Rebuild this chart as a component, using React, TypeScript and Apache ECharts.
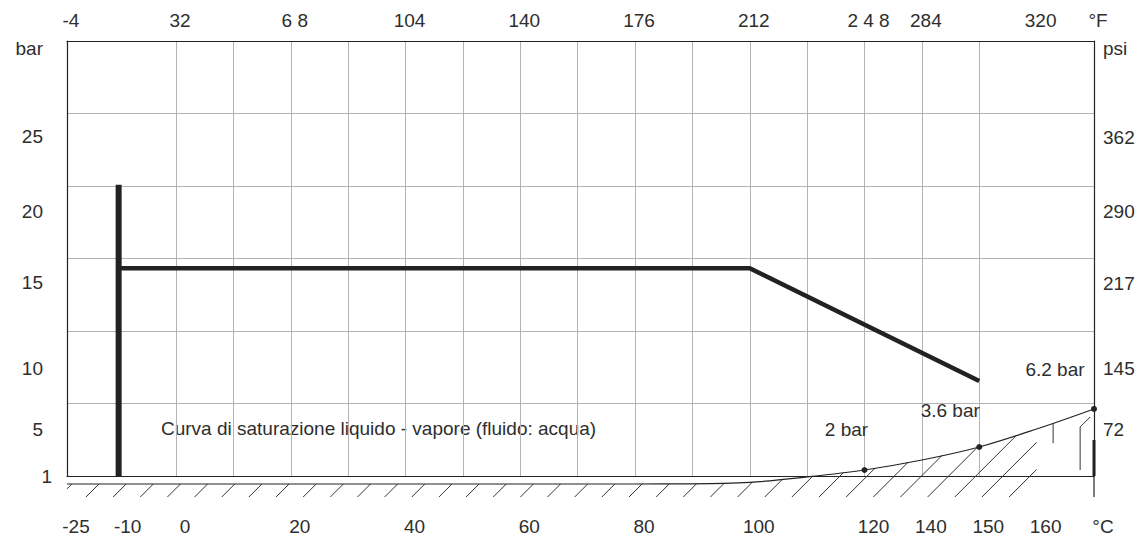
import React, { useEffect, useRef } from 'react';
import * as echarts from 'echarts';

// ---- scale stops (schematic, non-linear axes of the drawing) ----
const tempStops = [-25, -10, 120, 140, 150, 160, 170];
const colStops = [-0.9, 0, 13, 14, 15, 16, 17];
const barStops = [1, 5, 10, 15, 20, 25];
const rowStops = [0, 0.648, 1.476, 2.669, 3.648, 4.676];

// ---- tick labels ----
const celsiusTicks = [-25, -10, 0, 20, 40, 60, 80, 100, 120, 140, 150, 160, 170];
const celsiusLabels = ['-25', '-10', '0', '20', '40', '60', '80', '100', '120', '140', '150', '160', '°C'];
const fahrenheitTicks = [-25, 0, 20, 40, 60, 80, 100, 120, 140, 160, 170];
const fahrenheitLabels = ['-4', '32', '6 8', '104', '140', '176', '212', '2 4 8', '284', '320', '°F'];
const barTicks = [5, 10, 15, 20, 25];
const barBottomTick = 1;
const psiTicks = [72, 145, 217, 290, 362];
const unitRow = 5.9;

// ---- series data (°C, bar) ----
const limitTemp = [-10, -10];
const limitBar = [1, 21.8];
const ptTemp = [-10, 100, 150];
const ptBar = [16, 16, 9];
const satTemp = [-25, 70, 80, 90, 100, 110, 120, 140, 150, 160, 170];
const satBar = [0.32, 0.32, 0.32, 0.33, 0.46, 0.92, 1.51, 2.36, 3.47, 5.0, 6.67];
const markTemp = [120, 150, 170];
const markBar = [1.51, 3.47, 6.67];
const markLabels = ['2 bar', '3.6 bar', '6.2 bar'];
const markLabelOffsets = [[-18, -41], [-29, -36], [-39, -39]];

const X_MIN = -0.9;
const X_MAX = 17;
const FONT = 'Liberation Sans';
const TEXT = '#2e2e2e';
const INK = '#222';

function interp(v: number, xs: number[], ys: number[]) {
  let i = 0;
  if (v >= xs[xs.length - 1]) i = xs.length - 2;
  else if (v > xs[0]) {
    while (v > xs[i + 1]) i++;
  }
  const f = (v - xs[i]) / (xs[i + 1] - xs[i]);
  return ys[i] + f * (ys[i + 1] - ys[i]);
}
const tCol = (t: number) => interp(t, tempStops, colStops);
const pRow = (p: number) => interp(p, barStops, rowStops);

const lookup = (vals: number[], labels: string[]) => (v: number) => {
  let best = 0;
  for (let i = 1; i < vals.length; i++) {
    if (Math.abs(vals[i] - v) < Math.abs(vals[best] - v)) best = i;
  }
  return labels[best];
};

export default function App() {
  const ref = useRef<HTMLDivElement>(null);

  useEffect(() => {
    document.body.style.margin = '0';
    const chart = echarts.init(ref.current!, null, { renderer: 'svg' });

    const bottomVals = celsiusTicks.map(tCol);
    const topVals = fahrenheitTicks.map(tCol);
    const leftVals = [...barTicks.map(pRow), unitRow];
    const leftLabels = [...barTicks.map(String), 'bar'];
    const rightVals = [...psiTicks.map((p) => pRow(p / 14.5)), unitRow];
    const rightLabels = [...psiTicks.map(String), 'psi'];
    const gridCols = Array.from({ length: 17 }, (_, i) => i);

    const labelBase = { color: TEXT, fontFamily: FONT, fontSize: 19 };
    const frame = { show: true, onZero: false, lineStyle: { color: INK, width: 1.2 } };

    const option: any = {
      animation: false,
      textStyle: { fontFamily: FONT },
      grid: { left: 67, right: 47, top: 41, bottom: 63, containLabel: false },
      xAxis: [
        {
          type: 'value', position: 'bottom', min: X_MIN, max: X_MAX,
          axisLine: frame,
          axisTick: { show: false, customValues: gridCols },
          splitLine: { show: true, showMinLine: false, showMaxLine: false, lineStyle: { color: '#b3b3b3', width: 1 } },
          axisLabel: {
            ...labelBase, margin: 41, padding: [0, 0, 0, 18],
            customValues: bottomVals, formatter: lookup(bottomVals, celsiusLabels),
          },
        },
        {
          type: 'value', position: 'top', min: X_MIN, max: X_MAX,
          axisLine: frame,
          axisTick: { show: false },
          splitLine: { show: false },
          axisLabel: {
            ...labelBase, margin: 11, padding: [0, 0, 0, 8],
            customValues: topVals, formatter: lookup(topVals, fahrenheitLabels),
          },
        },
      ],
      yAxis: [
        {
          type: 'value', position: 'left', min: 0, max: 6, interval: 1,
          axisLine: frame,
          axisTick: { show: false },
          splitLine: { show: true, showMinLine: false, showMaxLine: false, lineStyle: { color: '#b3b3b3', width: 1 } },
          axisLabel: {
            ...labelBase, margin: 24,
            customValues: leftVals, formatter: lookup(leftVals, leftLabels),
          },
        },
        {
          type: 'value', position: 'right', min: 0, max: 6, interval: 1,
          axisLine: frame,
          axisTick: { show: false },
          splitLine: { show: false },
          axisLabel: {
            ...labelBase, margin: 9,
            customValues: rightVals, formatter: lookup(rightVals, rightLabels),
          },
        },
        {
          type: 'value', position: 'left', min: 0, max: 6, interval: 1,
          axisLine: { show: false },
          axisTick: { show: false },
          splitLine: { show: false },
          axisLabel: {
            ...labelBase, margin: 15,
            customValues: [pRow(barBottomTick)], formatter: () => String(barBottomTick),
          },
        },
      ],
      graphic: [
        {
          type: 'text', left: 161, top: 419, silent: true,
          style: { text: 'Curva di saturazione liquido - vapore (fluido: acqua)', fill: TEXT, font: `19px "${FONT}"` },
        },
      ],
      series: [
        {
          type: 'custom', name: 'hatch', silent: true, clip: false, z: 2,
          data: [[0, 0]],
          renderItem: (_params: any, api: any) => {
            const pts = satTemp.map((t, i) => api.coord([tCol(t), pRow(satBar[i])]));
            const curveY = (x: number) => {
              if (x <= pts[0][0]) return pts[0][1];
              for (let i = 0; i < pts.length - 1; i++) {
                if (x <= pts[i + 1][0]) {
                  const f = (x - pts[i][0]) / (pts[i + 1][0] - pts[i][0]);
                  return pts[i][1] + f * (pts[i + 1][1] - pts[i][1]);
                }
              }
              return pts[pts.length - 1][1];
            };
            const left = api.coord([X_MIN, 0])[0];
            const [rightX, bottomY] = api.coord([X_MAX, 0]);
            const stopX = api.coord([tCol(160), 0])[0];
            const hatchBottom = pts[0][1] + 13;
            const stroke = { stroke: '#333', lineWidth: 1 };
            const children: any[] = [];
            for (let xb = left - 8.15; xb < stopX; xb += 27.15) {
              let s = 0;
              while (s < 300 && hatchBottom - s > curveY(xb + s)) s += 0.25;
              let x1 = xb, y1 = hatchBottom, x2 = xb + s, y2 = hatchBottom - s;
              if (x1 < left) { const d = left - x1; x1 += d; y1 -= d; }
              if (x2 > stopX) { const d = x2 - stopX; x2 -= d; y2 += d; }
              if (x2 - x1 < 0.5) continue;
              children.push({ type: 'line', shape: { x1, y1, x2, y2 }, style: stroke });
            }
            const xa = stopX + 16.5;
            children.push({ type: 'line', shape: { x1: xa, y1: curveY(xa), x2: xa, y2: curveY(xa) + 20 }, style: stroke });
            const xc = stopX + 43.5;
            children.push({
              type: 'polyline',
              shape: { points: [[xc, bottomY - 6], [xc, bottomY - 49], [xc + 10, bottomY - 59]] },
              style: { ...stroke, fill: null },
            });
            children.push({ type: 'line', shape: { x1: rightX, y1: bottomY - 36, x2: rightX, y2: bottomY }, style: { stroke: INK, lineWidth: 3 } });
            children.push({ type: 'line', shape: { x1: rightX, y1: bottomY, x2: rightX, y2: hatchBottom }, style: { stroke: INK, lineWidth: 1.2 } });
            return { type: 'group', children };
          },
        },
        {
          type: 'line', name: 'saturazione', clip: false, z: 3, silent: true,
          smooth: 0.35, symbol: 'none',
          lineStyle: { color: INK, width: 1.2 },
          data: satTemp.map((t, i) => [tCol(t), pRow(satBar[i])]),
        },
        {
          type: 'line', name: 'limite', clip: false, z: 5, silent: true, symbol: 'none',
          lineStyle: { color: INK, width: 6, cap: 'butt' },
          data: limitTemp.map((t, i) => [tCol(t), pRow(limitBar[i])]),
        },
        {
          type: 'line', name: 'PT', clip: false, z: 5, silent: true, symbol: 'none',
          lineStyle: { color: INK, width: 4.5, cap: 'butt' },
          data: ptTemp.map((t, i) => [tCol(t), pRow(ptBar[i])]),
        },
        {
          type: 'scatter', name: 'punti', clip: false, z: 6, silent: true,
          symbol: 'circle', symbolSize: 6,
          itemStyle: { color: INK, opacity: 1 },
          data: markTemp.map((t, i) => ({
            value: [tCol(t), pRow(markBar[i])],
            label: {
              show: true, position: 'inside', formatter: markLabels[i],
              offset: markLabelOffsets[i], color: TEXT, fontFamily: FONT, fontSize: 19,
              textBorderWidth: 0, opacity: 1,
            },
          })),
        },
      ],
    };

    chart.setOption(option);
    return () => chart.dispose();
  }, []);

  return <div ref={ref} style={{ width: 1141, height: 539 }} />;
}
